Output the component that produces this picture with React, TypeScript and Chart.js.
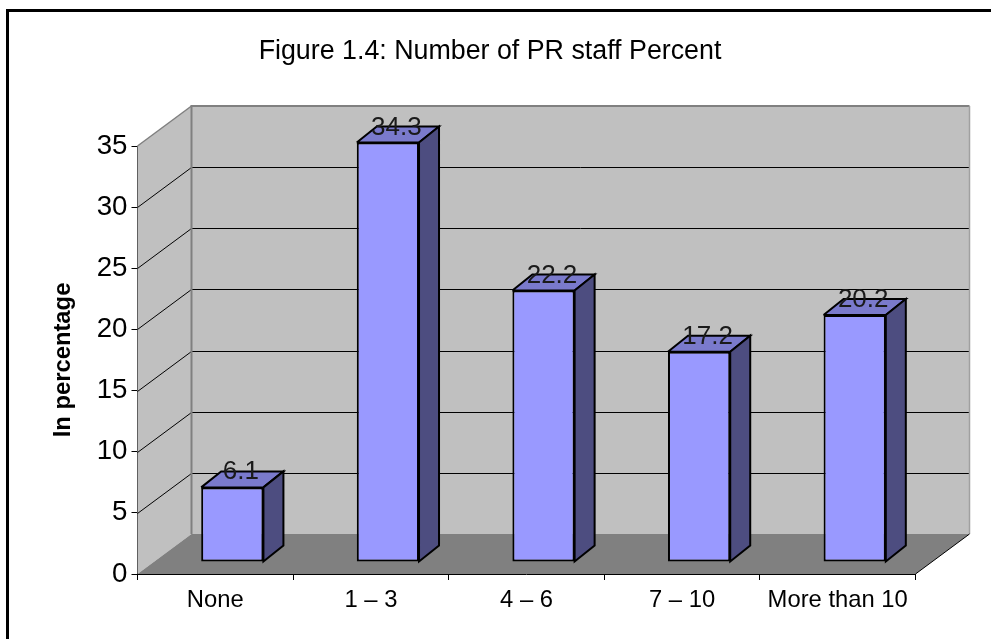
import React, { useEffect, useRef } from "react";
import { Chart, registerables } from "chart.js";

Chart.register(...registerables);

const categories = ["None", "1 – 3", "4 – 6", "7 – 10", "More than 10"];
const percentValues = [6.1, 34.3, 22.2, 17.2, 20.2];
const chartTitle = "Figure 1.4: Number of PR staff Percent";
const yAxisTitle = "In percentage";

// Isometric layout of the pseudo-3D box.
const WIDTH = 991;
const HEIGHT = 639;
const PLOT_LEFT = 137.5;
const PLOT_RIGHT = 915.5;
const PLOT_TOP = 146;
const PLOT_BOTTOM = 574;
const DEPTH_X = 54;
const DEPTH_Y = 40;
const BAR_FRONT_X = 17;
const BAR_FRONT_Y = 12;
const BAR_SIDE_X = 20;
const BAR_SIDE_Y = 16;

const FONT = "'Liberation Sans', Arial, sans-serif";

function poly(ctx: CanvasRenderingContext2D, pts: number[][], fill?: string, stroke?: string, lw = 1) {
  ctx.beginPath();
  pts.forEach(([x, y], i) => (i ? ctx.lineTo(x, y) : ctx.moveTo(x, y)));
  if (fill) {
    ctx.closePath();
    ctx.fillStyle = fill;
    ctx.fill();
  }
  if (stroke) {
    ctx.strokeStyle = stroke;
    ctx.lineWidth = lw;
    ctx.stroke();
  }
}

// Frame around the whole figure; it runs off the right and bottom of the page.
const framePlugin = {
  id: "frame",
  beforeDraw(chart: any) {
    const { ctx } = chart;
    ctx.save();
    ctx.fillStyle = "#ffffff";
    ctx.fillRect(0, 0, WIDTH, HEIGHT);
    poly(ctx, [[7.5, HEIGHT + 5], [7.5, 10.5], [WIDTH + 5, 10.5]], undefined, "#000000", 3);
    ctx.restore();
  },
  afterLayout(chart: any) {
    // The title sits slightly left of the page centre.
    chart.titleBlock.right = 980;
  },
};

// Back wall, side wall, floor and their gridlines, all hung on the value scale.
const boxPlugin = {
  id: "box",
  beforeDatasetsDraw(chart: any) {
    const { ctx, chartArea: a, scales } = chart;
    const y = scales.y;
    const b = { l: a.left + DEPTH_X, r: a.right + DEPTH_X, t: a.top - DEPTH_Y, f: a.bottom - DEPTH_Y };
    ctx.save();
    poly(ctx, [[b.l, b.t], [b.r, b.t], [b.r, b.f], [b.l, b.f]], "#c0c0c0");
    poly(ctx, [[a.left, a.top], [b.l, b.t], [b.l, b.f], [a.left, a.bottom]], "#c0c0c0");
    poly(ctx, [[a.left, a.bottom], [b.l, b.f], [b.r, b.f], [a.right, a.bottom]], "#808080");
    y.ticks.forEach((t: any) => {
      if (t.value === 0 || t.value === y.max) return;
      const py = Math.round(y.getPixelForValue(t.value)) + 0.5;
      poly(ctx, [[a.left, py], [b.l, py - DEPTH_Y], [b.r, py - DEPTH_Y]], undefined, "#000000", 1);
    });
    poly(ctx, [[b.l, b.f], [b.l, b.t], [b.r, b.t]], undefined, "#808080", 2);
    poly(ctx, [[a.left, a.top], [b.l, b.t]], undefined, "#808080", 1.5);
    poly(ctx, [[b.r, b.t], [b.r, b.f]], undefined, "#a0a0a0", 1.5);
    poly(ctx, [[a.right, a.bottom], [b.r, b.f]], undefined, "#000000", 1);
    ctx.restore();
  },
  // Bars stand in the middle of the floor, so the whole set is shifted back,
  // with top and side faces added behind each front face.
  beforeDatasetDraw(chart: any, args: any) {
    const { ctx } = chart;
    ctx.save();
    ctx.translate(BAR_FRONT_X, -BAR_FRONT_Y);
    args.meta.data.forEach((el: any) => {
      const l = el.x - el.width / 2;
      const r = el.x + el.width / 2;
      const top = [[l, el.y], [l + BAR_SIDE_X, el.y - BAR_SIDE_Y], [r + BAR_SIDE_X, el.y - BAR_SIDE_Y], [r, el.y]];
      poly(ctx, top, "#7a7acc");
      poly(ctx, [...top, top[0]], undefined, "#000000", 2);
      const side = [[r, el.y], [r + BAR_SIDE_X, el.y - BAR_SIDE_Y], [r + BAR_SIDE_X, el.base - BAR_SIDE_Y], [r, el.base]];
      poly(ctx, side, "#4d4d80");
      poly(ctx, [...side, side[0]], undefined, "#000000", 2);
    });
  },
  afterDatasetDraw(chart: any) {
    chart.ctx.restore();
  },
  // Value labels straddle the top face of each bar.
  afterDatasetsDraw(chart: any) {
    const { ctx } = chart;
    const meta = chart.getDatasetMeta(0);
    ctx.save();
    ctx.font = `26px ${FONT}`;
    ctx.fillStyle = "#1a1a1a";
    ctx.textAlign = "center";
    ctx.textBaseline = "alphabetic";
    meta.data.forEach((el: any, i: number) => {
      ctx.fillText(String(percentValues[i]), el.x + BAR_FRONT_X + 8.5, el.y - BAR_FRONT_Y + 4 - 12);
    });
    ctx.restore();
  },
};

export default function App() {
  const ref = useRef<HTMLCanvasElement | null>(null);
  useEffect(() => {
    const chart = new Chart(ref.current as HTMLCanvasElement, {
      type: "bar",
      data: {
        labels: categories,
        datasets: [
          {
            data: percentValues,
            backgroundColor: "#9999ff",
            borderColor: "#000000",
            borderWidth: 2,
            borderSkipped: false,
            barPercentage: 1,
            categoryPercentage: 0.4,
            clip: false,
          } as any,
        ],
      },
      options: {
        responsive: false,
        animation: false,
        devicePixelRatio: 1,
        layout: {
          autoPadding: false,
          padding: { left: 0, top: 0, right: WIDTH - PLOT_RIGHT, bottom: 0 },
        },
        plugins: {
          legend: { display: false },
          tooltip: { enabled: false },
          title: {
            display: true,
            text: chartTitle,
            color: "#000000",
            font: { family: FONT, size: 26.8, weight: "normal", lineHeight: 1.2 },
            padding: { top: 36, bottom: PLOT_TOP - 36 - 32.16 },
            fullSize: true,
          },
        },
        scales: {
          x: {
            grid: { drawOnChartArea: false, drawTicks: true, tickLength: 6, color: "#000000", offset: true },
            border: { display: true, color: "#000000", width: 1 },
            ticks: { color: "#000000", font: { family: FONT, size: 23.8 }, padding: 6, maxRotation: 0, autoSkip: false },
            afterFit(scale: any) {
              scale.height = HEIGHT - PLOT_BOTTOM;
            },
          },
          y: {
            min: 0,
            max: 35,
            grid: { drawOnChartArea: false, drawTicks: true, tickLength: 6, color: "#000000" },
            border: { display: true, color: "#000000", width: 1 },
            ticks: { stepSize: 5, color: "#000000", font: { family: FONT, size: 27.7 }, padding: 4 },
            title: {
              display: true,
              text: yAxisTitle,
              color: "#000000",
              font: { family: FONT, size: 23.8, weight: "bold", lineHeight: 1.2 },
              padding: { top: 49, bottom: 0 },
            },
            afterFit(scale: any) {
              scale.width = PLOT_LEFT;
            },
          },
        },
      },
      plugins: [framePlugin, boxPlugin],
    } as any);
    return () => chart.destroy();
  }, []);
  return (
    <div style={{ position: "fixed", left: 0, top: 0, width: WIDTH, height: HEIGHT, background: "#ffffff" }}>
      <canvas ref={ref} width={WIDTH} height={HEIGHT} style={{ display: "block" }} />
    </div>
  );
}
